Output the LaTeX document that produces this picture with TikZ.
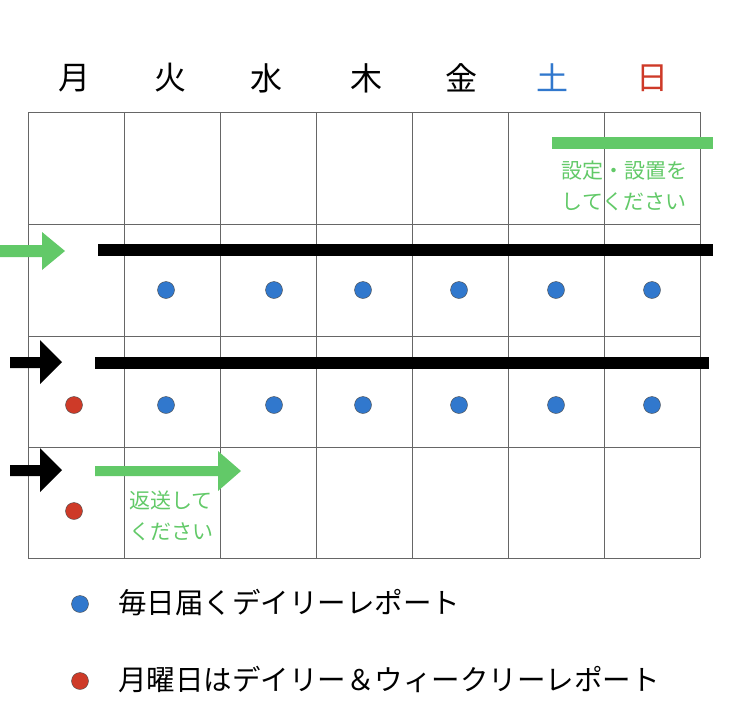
\documentclass[tikz,border=0pt]{standalone}
\usepackage{fontspec}
\setmainfont{Noto Sans CJK JP}
\begin{document}
\begin{tikzpicture}[x=1pt,y=-1pt]
\definecolor{gr}{RGB}{98,201,104}
\definecolor{bl}{RGB}{49,120,205}
\definecolor{rd}{RGB}{206,58,40}
\tikzset{grid/.style={draw=black!60,line width=0.8pt},
 bdot/.style={circle,fill=bl,draw=black!70,line width=0.4pt,minimum size=17pt,inner sep=0pt},
 rdot/.style={circle,fill=rd,draw=black!70,line width=0.4pt,minimum size=17pt,inner sep=0pt},
 day/.style={font=\fontsize{32}{32}\selectfont},
 gtxt/.style={text=gr,font=\fontsize{21}{31}\selectfont,align=center},
 leg/.style={font=\fontsize{28.5}{28.5}\selectfont,anchor=west,inner sep=0pt}}
\useasboundingbox (0,0) rectangle (728,728);
\foreach \x in {28,124,220,316,412,508,604,700} \draw[grid] (\x,112) -- (\x,558);
\foreach \y in {112,224,336,447,558} \draw[grid] (28,\y) -- (700,\y);
\foreach \n/\x/\c in {月/74/black,火/170/black,水/266/black,木/366/black,金/461/black,土/552/bl,日/652/rd}
  \node[day,text=\c] at (\x,78) {\n};
% top green bar
\fill[gr] (552,137) rectangle (713,149);
\node[gtxt] (t1) at (624,186) {設定・設置を\\してください};
% row 2
\fill[gr] (0,245) -- (42,245) -- (42,232) -- (65,251) -- (42,270) -- (42,257) -- (0,257) -- cycle;
\fill[black] (98,244) rectangle (713,256);
\foreach \x in {166,274,363,459,556,652} \node[bdot] at (\x,290) {};
% row 3
\fill[black] (10,357) -- (40,357) -- (40,340) -- (62,362) -- (40,384) -- (40,368) -- (10,368) -- cycle;
\fill[black] (95,357) rectangle (709,369);
\node[rdot] at (74,405) {};
\foreach \x in {166,274,363,459,556,652} \node[bdot] at (\x,405) {};
% row 4
\fill[black] (10,465) -- (40,465) -- (40,448) -- (62,470) -- (40,492) -- (40,476) -- (10,476) -- cycle;
\fill[gr] (95,466) -- (218,466) -- (218,451) -- (241,471) -- (218,491) -- (218,476) -- (95,476) -- cycle;
\node[gtxt] (t2) at (171,516) {返送して\\ください};
\node[rdot] at (74,511) {};
% legend
\node[bdot] (lb) at (80,604) {};
\node[leg] at (118,603) {毎日届くデイリーレポート};
\node[rdot] (lr) at (80,681) {};
\node[leg] at (118,680) {月曜日はデイリー＆ウィークリーレポート};
\end{tikzpicture}
\end{document}
